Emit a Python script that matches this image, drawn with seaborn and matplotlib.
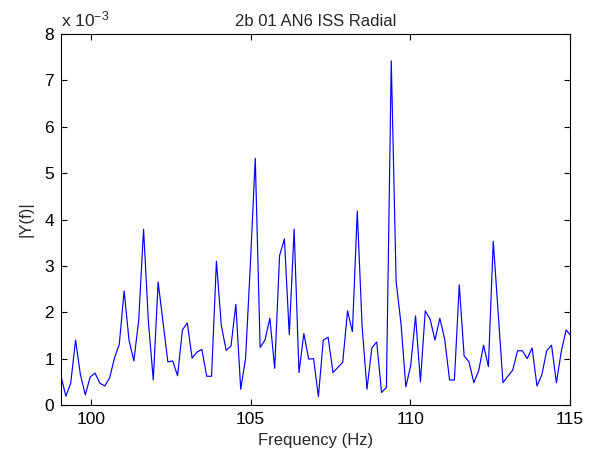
import numpy as np
import pandas as pd
import matplotlib
matplotlib.use("Agg")
import matplotlib.pyplot as plt
import seaborn as sns

# Frequency grid (FFT bins)
f_start = 99.06
f_step = 0.1521
# |Y(f)| magnitudes, in units of 1e-3
amplitude = [
    0.62, 0.19, 0.47, 1.40, 0.65, 0.22, 0.60, 0.69, 0.47, 0.41,
    0.58, 1.01, 1.31, 2.46, 1.40, 0.95, 1.83, 3.79, 1.79, 0.54,
    2.65, 1.79, 0.93, 0.95, 0.63, 1.62, 1.77, 1.01, 1.14, 1.20,
    0.62, 0.62, 3.10, 1.72, 1.18, 1.27, 2.17, 0.34, 1.00, 3.05,
    5.32, 1.24, 1.40, 1.87, 0.79, 3.22, 3.58, 1.52, 3.79, 0.70,
    1.54, 0.99, 1.00, 0.18, 1.40, 1.46, 0.70, 0.81, 0.92, 2.03,
    1.58, 4.18, 1.69, 0.34, 1.23, 1.36, 0.27, 0.38, 7.42, 2.66,
    1.76, 0.39, 0.85, 1.92, 0.50, 2.03, 1.85, 1.40, 1.87, 1.42,
    0.54, 0.54, 2.59, 1.06, 0.93, 0.48, 0.74, 1.29, 0.83, 3.53,
    2.00, 0.48, 0.62, 0.75, 1.17, 1.17, 1.00, 1.23, 0.41, 0.65,
    1.17, 1.29, 0.48, 1.15, 1.62, 1.49,
]
frequency = f_start + f_step * np.arange(len(amplitude))
x_ticks = [100, 105, 110, 115]
y_ticks = [0, 1, 2, 3, 4, 5, 6, 7, 8]

title = "2b 01 AN6 ISS Radial"
xlabel = "Frequency (Hz)"
ylabel = "|Y(f)|"

sns.set_style("ticks")
plt.rcParams['font.family'] = ['Liberation Sans', 'DejaVu Sans']
plt.rcParams['mathtext.fontset'] = 'custom'
plt.rcParams['mathtext.rm'] = 'Liberation Sans'
plt.rcParams['mathtext.it'] = 'Liberation Sans'
plt.rcParams['mathtext.default'] = 'regular'

df = pd.DataFrame({"f": frequency, "y": amplitude})

fig = plt.figure(figsize=(5.97, 4.63), dpi=100)
ax = fig.add_axes([61/597, 1-405/463, (570-61)/597, (405-34)/463])
sns.lineplot(data=df, x="f", y="y", ax=ax, color=(0, 0, 1), linewidth=0.85)

ax.set_xlim(99.06, 115.0)
ax.set_ylim(0, 8)
ax.set_xticks(x_ticks)
ax.set_yticks(y_ticks)
ax.set_xticklabels([str(v) for v in x_ticks])
ax.set_yticklabels([str(v) for v in y_ticks])
ax.tick_params(direction="in", top=True, right=True, length=4, width=0.8,
               labelsize=12.5, colors="black", pad=5)
for s in ax.spines.values():
    s.set_visible(True)
    s.set_linewidth(0.8)
    s.set_color("black")

ax.set_title(title, fontsize=12, pad=6)
ax.set_xlabel(xlabel, fontsize=12, labelpad=4)
ax.set_ylabel(ylabel, fontsize=12, labelpad=8)
ax.text(0.0, 1.012, r"x 10$^{-3}$", transform=ax.transAxes, fontsize=12.5,
        ha="left", va="bottom")

fig.savefig("out.png", dpi=100)
